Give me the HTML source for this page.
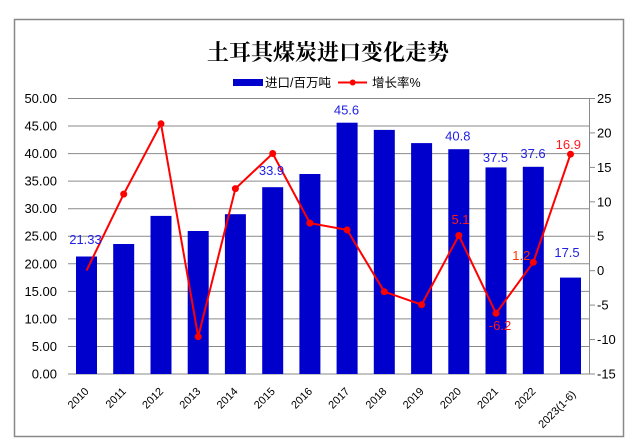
<!DOCTYPE html>
<html><head><meta charset="utf-8"><style>
html,body{margin:0;padding:0;background:#fff;}
svg{display:block;}
text{font-family:"Liberation Sans","Noto Sans CJK SC",sans-serif;}
</style></head><body>
<svg width="633" height="446" viewBox="0 0 633 446" xmlns="http://www.w3.org/2000/svg">
<rect x="0" y="0" width="633" height="446" fill="#fff"/>
<rect x="14.5" y="19.5" width="609" height="417" fill="none" stroke="#888" stroke-width="1.5"/>
<text x="328" y="60" text-anchor="middle" font-size="22" font-weight="bold" style="font-family:'Noto Serif CJK SC','Liberation Serif',serif" fill="#000">土耳其煤炭进口变化走势</text>
<rect x="233" y="79" width="30" height="7" fill="#0000cc"/>
<text x="265" y="87" font-size="12.5" fill="#000">进口/百万吨</text>
<line x1="338" y1="82.5" x2="367" y2="82.5" stroke="#ff0000" stroke-width="2"/>
<circle cx="352.7" cy="82.5" r="3" fill="#ff0000"/>
<text x="372" y="87" font-size="12.5" fill="#000">增长率%</text>
<g stroke="#8a8a8a" stroke-width="1">
<line x1="68" y1="374" x2="589" y2="374"/>
<line x1="68" y1="346.45" x2="589" y2="346.45"/>
<line x1="68" y1="318.9" x2="589" y2="318.9"/>
<line x1="68" y1="291.35" x2="589" y2="291.35"/>
<line x1="68" y1="263.8" x2="589" y2="263.8"/>
<line x1="68" y1="236.25" x2="589" y2="236.25"/>
<line x1="68" y1="208.7" x2="589" y2="208.7"/>
<line x1="68" y1="181.15" x2="589" y2="181.15"/>
<line x1="68" y1="153.6" x2="589" y2="153.6"/>
<line x1="68" y1="126.05" x2="589" y2="126.05"/>
<line x1="68" y1="98.5" x2="589" y2="98.5"/>
<line x1="589.5" y1="98.5" x2="589.5" y2="374"/>
<line x1="589" y1="374" x2="595" y2="374"/>
<line x1="589" y1="339.56" x2="595" y2="339.56"/>
<line x1="589" y1="305.1" x2="595" y2="305.1"/>
<line x1="589" y1="270.7" x2="595" y2="270.7"/>
<line x1="589" y1="236.25" x2="595" y2="236.25"/>
<line x1="589" y1="201.8" x2="595" y2="201.8"/>
<line x1="589" y1="167.4" x2="595" y2="167.4"/>
<line x1="589" y1="132.9" x2="595" y2="132.9"/>
<line x1="589" y1="98.5" x2="595" y2="98.5"/>
</g>
<g font-size="13" fill="#000" text-anchor="end">
<text x="57" y="378.5">0.00</text>
<text x="57" y="351">5.00</text>
<text x="57" y="323.4">10.00</text>
<text x="57" y="295.8">15.00</text>
<text x="57" y="268.3">20.00</text>
<text x="57" y="240.7">25.00</text>
<text x="57" y="213.2">30.00</text>
<text x="57" y="185.6">35.00</text>
<text x="57" y="158.1">40.00</text>
<text x="57" y="130.5">45.00</text>
<text x="57" y="103">50.00</text>
</g>
<g font-size="13" fill="#000" text-anchor="start">
<text x="597" y="378.5">-15</text>
<text x="597" y="344">-10</text>
<text x="597" y="309.6">-5</text>
<text x="597" y="275.2">0</text>
<text x="597" y="240.7">5</text>
<text x="597" y="206.3">10</text>
<text x="597" y="171.9">15</text>
<text x="597" y="137.4">20</text>
<text x="597" y="103">25</text>
</g>
<g fill="#0000cc">
<rect x="76" y="256.5" width="21" height="117.5"/>
<rect x="113.2" y="244" width="21" height="130"/>
<rect x="150.5" y="215.9" width="21" height="158.1"/>
<rect x="187.7" y="231" width="21" height="143"/>
<rect x="224.9" y="214.2" width="21" height="159.8"/>
<rect x="262.2" y="187.2" width="21" height="186.8"/>
<rect x="299.4" y="174" width="21" height="200"/>
<rect x="336.6" y="122.7" width="21" height="251.3"/>
<rect x="373.8" y="129.9" width="21" height="244.1"/>
<rect x="411.1" y="143.1" width="21" height="230.9"/>
<rect x="448.3" y="149.2" width="21" height="224.8"/>
<rect x="485.5" y="167.4" width="21" height="206.6"/>
<rect x="522.8" y="166.8" width="21" height="207.2"/>
<rect x="560" y="277.6" width="21" height="96.4"/>
</g>
<polyline fill="none" stroke="#ff0000" stroke-width="2" points="86.5,270.6 123.7,194.1 161,123.8 198.2,336.7 235.4,188.6 272.7,153.5 309.9,223.1 347.1,229.9 384.3,291.7 421.6,304.7 458.8,235.5 496,313.3 533.3,262.3 570.5,154.2"/>
<g fill="#ff0000">
<circle cx="123.7" cy="194.1" r="3.5"/>
<circle cx="161" cy="123.8" r="3.5"/>
<circle cx="198.2" cy="336.7" r="3.5"/>
<circle cx="235.4" cy="188.6" r="3.5"/>
<circle cx="272.7" cy="153.5" r="3.5"/>
<circle cx="309.9" cy="223.1" r="3.5"/>
<circle cx="347.1" cy="229.9" r="3.5"/>
<circle cx="384.3" cy="291.7" r="3.5"/>
<circle cx="421.6" cy="304.7" r="3.5"/>
<circle cx="458.8" cy="235.5" r="3.5"/>
<circle cx="496" cy="313.3" r="3.5"/>
<circle cx="533.3" cy="262.3" r="3.5"/>
<circle cx="570.5" cy="154.2" r="3.5"/>
</g>
<g font-size="13" fill="#2020e6" text-anchor="middle">
<text x="85.5" y="243.8">21.33</text>
<text x="271.5" y="175.2">33.9</text>
<text x="346.5" y="114.5">45.6</text>
<text x="457.8" y="140.5">40.8</text>
<text x="495.5" y="161.8">37.5</text>
<text x="533" y="157.8">37.6</text>
<text x="567" y="257.2">17.5</text>
</g>
<g font-size="13" fill="#ff1a1a" text-anchor="middle">
<text x="460.5" y="223.8">5.1</text>
<text x="500" y="330.2">-6.2</text>
<text x="521.3" y="259.8" fill="#ff3300">1.2</text>
<text x="568.3" y="148.8">16.9</text>
</g>
<g font-size="11" fill="#000" text-anchor="end">
<text transform="translate(89.5,392) rotate(-45)">2010</text>
<text transform="translate(126.7,392) rotate(-45)">2011</text>
<text transform="translate(164,392) rotate(-45)">2012</text>
<text transform="translate(201.2,392) rotate(-45)">2013</text>
<text transform="translate(238.4,392) rotate(-45)">2014</text>
<text transform="translate(275.7,392) rotate(-45)">2015</text>
<text transform="translate(312.9,392) rotate(-45)">2016</text>
<text transform="translate(350.1,392) rotate(-45)">2017</text>
<text transform="translate(387.3,392) rotate(-45)">2018</text>
<text transform="translate(424.6,392) rotate(-45)">2019</text>
<text transform="translate(461.8,392) rotate(-45)">2020</text>
<text transform="translate(499,392) rotate(-45)">2021</text>
<text transform="translate(536.3,392) rotate(-45)">2022</text>
<text transform="translate(576.5,395) rotate(-45)">2023(1-6)</text>
</g>
</svg>
</body></html>
